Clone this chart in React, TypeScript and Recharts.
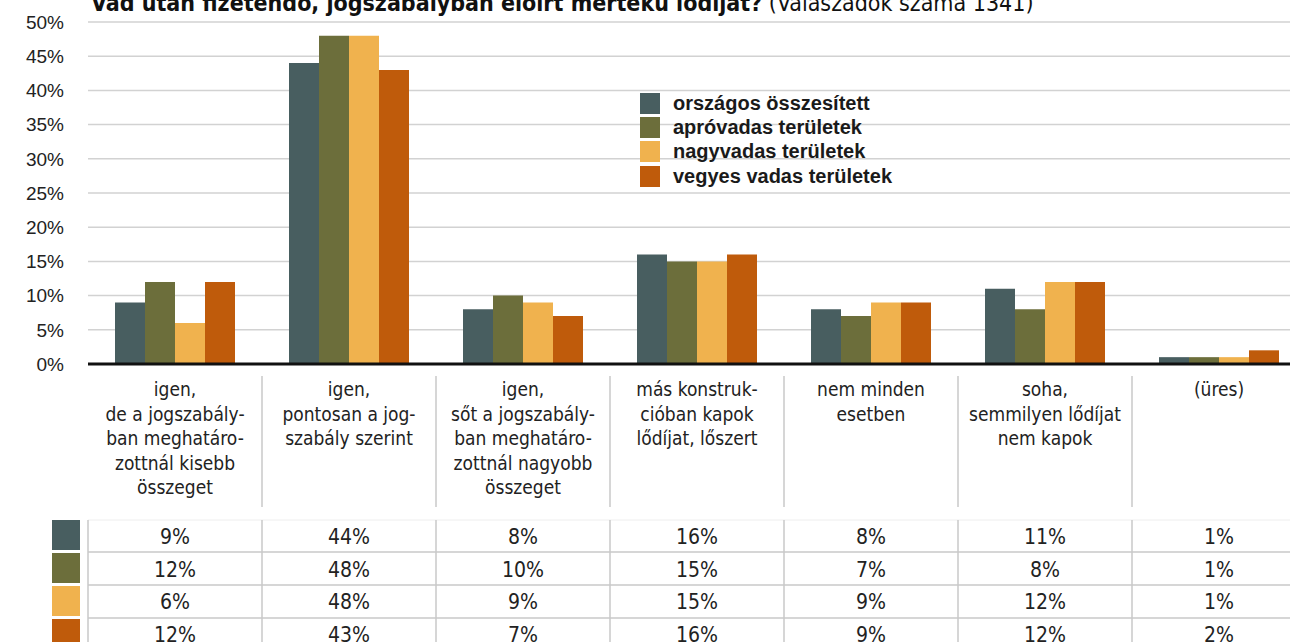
import { BarChart, Bar, XAxis, YAxis, CartesianGrid, Legend } from "recharts";

// answer categories, one array of lines per category label
const categoryLines: string[][] = [
  ["igen,", "de a jogszabály-", "ban meghatáro-", "zottnál kisebb", "összeget"],
  ["igen,", "pontosan a jog-", "szabály szerint"],
  ["igen,", "sőt a jogszabály-", "ban meghatáro-", "zottnál nagyobb", "összeget"],
  ["más konstruk-", "cióban kapok", "lődíjat, lőszert"],
  ["nem minden", "esetben"],
  ["soha,", "semmilyen lődíjat", "nem kapok"],
  ["(üres)"],
];

const seriesNames = [
  "országos összesített",
  "apróvadas területek",
  "nagyvadas területek",
  "vegyes vadas területek",
];
const seriesKeys = ["orszagos", "aprovadas", "nagyvadas", "vegyes"];
const seriesColors = ["#485E60", "#6C6E3B", "#F0B24E", "#BF5B0B"];

const orszagos = [9, 44, 8, 16, 8, 11, 1];
const aprovadas = [12, 48, 10, 15, 7, 8, 1];
const nagyvadas = [6, 48, 9, 15, 9, 12, 1];
const vegyes = [12, 43, 7, 16, 9, 12, 2];
const seriesValues = [orszagos, aprovadas, nagyvadas, vegyes];

const yTicks = [0, 5, 10, 15, 20, 25, 30, 35, 40, 45, 50];

const data = categoryLines.map((lines, i) => ({
  cat: lines.join(" "),
  orszagos: orszagos[i],
  aprovadas: aprovadas[i],
  nagyvadas: nagyvadas[i],
  vegyes: vegyes[i],
}));

const CHART_W = 1310;
const CHART_H = 654;
const Y_AXIS_W = 88;
const MARGIN = { top: 22, right: 4, left: 0, bottom: 0 };
const BAND = (CHART_W - MARGIN.left - MARGIN.right - Y_AXIS_W) / categoryLines.length;

const condensed = "'DejaVu Sans Condensed', 'DejaVu Sans', sans-serif";
const arial = "'Liberation Sans', Arial, sans-serif";
const lineColor = "#c8c8c8";

function CategoryTick(props: any) {
  const { x, y, index } = props;
  const half = BAND / 2;
  const lines = categoryLines[index] || [];
  const last = index === categoryLines.length - 1;
  return (
    <g>
      {!last && (
        <line x1={x + half} x2={x + half} y1={y + 12} y2={y + 143} stroke={lineColor} strokeWidth={1.5} />
      )}
      <text textAnchor="middle" fontFamily={condensed} fontStretch="condensed" fontSize={19} fill="#222">
        {lines.map((l, k) => (
          <tspan key={k} x={x} y={y + 32 + k * 24.5}>
            {l}
          </tspan>
        ))}
      </text>

      {/* data table */}
      <line x1={x - half} x2={x + half} y1={y + 156} y2={y + 156} stroke="#eeeeee" strokeWidth={1} />
      <line x1={x - half} x2={x - half} y1={y + 156} y2={y + 300} stroke={lineColor} strokeWidth={1.5} />
      {[188, 221, 254].map((ry) => (
        <line key={ry} x1={x - half} x2={x + half} y1={y + ry} y2={y + ry} stroke={lineColor} strokeWidth={1.5} />
      ))}
      {seriesValues.map((vals, s) => (
        <text
          key={s}
          x={x}
          y={y + 180 + s * 32.5}
          textAnchor="middle"
          fontFamily={condensed}
          fontStretch="condensed"
          fontSize={21}
          fill="#222"
        >
          {vals[index]}%
        </text>
      ))}
      {index === 0 &&
        seriesColors.map((c, s) => (
          <rect key={s} x={x - half - 36} y={y + 156 + s * 33} width={28} height={30} fill={c} />
        ))}
    </g>
  );
}

function LegendBox(props: any) {
  const payload = [...(props.payload || [])].sort(
    (a: any, b: any) => seriesNames.indexOf(a.value) - seriesNames.indexOf(b.value)
  );
  return (
    <div style={{ fontFamily: arial, fontWeight: 700, fontSize: 20, color: "#1a1a1a" }}>
      {payload.map((p: any, i: number) => (
        <div key={i} style={{ display: "flex", alignItems: "center", height: 24.3 }}>
          <span style={{ display: "inline-block", width: 20, height: 21, background: p.color, marginRight: 13 }} />
          <span>{p.value}</span>
        </div>
      ))}
    </div>
  );
}

export default function App() {
  return (
    <div style={{ width: 1290, height: 642, overflow: "hidden", position: "relative", background: "#fff" }}>
      <style>{"body{margin:0}"}</style>
      <div
        style={{
          position: "absolute",
          left: 91,
          top: -8,
          fontFamily: condensed,
          fontStretch: "condensed",
          fontSize: 23,
          lineHeight: "23px",
          whiteSpace: "nowrap",
          color: "#111",
          zIndex: 2,
        }}
      >
        <span style={{ fontWeight: 700 }}>Vad után fizetendő, jogszabályban előírt mértékű lődíjat?</span>{" "}
        <span>(Válaszadók száma 1341)</span>
      </div>
      <BarChart
        width={CHART_W}
        height={CHART_H}
        data={data}
        margin={MARGIN}
        barCategoryGap={27}
        barGap={0}
      >
        <CartesianGrid vertical={false} stroke="#d2d2d2" strokeWidth={1.5} />
        <YAxis
          width={Y_AXIS_W}
          domain={[0, 50]}
          ticks={yTicks}
          interval={0}
          tickFormatter={(v) => `${v}%`}
          axisLine={false}
          tickLine={false}
          tickSize={0}
          tickMargin={24}
          tick={{ fontSize: 19, fill: "#222", fontFamily: arial }}
        />
        <XAxis
          dataKey="cat"
          height={CHART_H - MARGIN.top - 342}
          interval={0}
          tickLine={false}
          tickSize={0}
          tickMargin={0}
          axisLine={{ stroke: "#111", strokeWidth: 3 }}
          tick={<CategoryTick />}
        />
        <Legend
          layout="vertical"
          verticalAlign="middle"
          align="center"
          content={<LegendBox />}
          wrapperStyle={{ position: "absolute", left: 640, top: 91, width: 320, height: 100 }}
        />
        {seriesKeys.map((k, i) => (
          <Bar key={k} dataKey={k} name={seriesNames[i]} fill={seriesColors[i]} isAnimationActive={false} />
        ))}
      </BarChart>
    </div>
  );
}
